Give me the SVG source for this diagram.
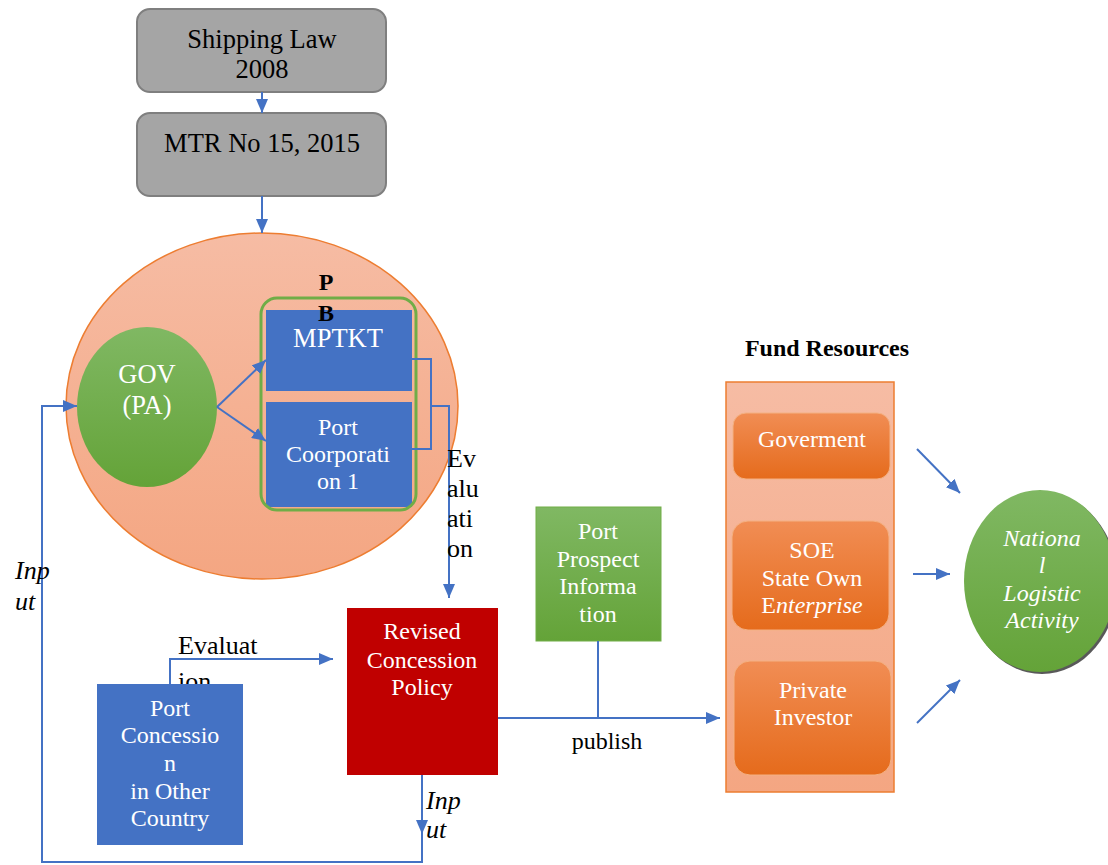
<svg xmlns="http://www.w3.org/2000/svg" width="1108" height="865" viewBox="0 0 1108 865">
<defs>
<linearGradient id="gGreen" x1="0" y1="0" x2="0" y2="1"><stop offset="0" stop-color="#80b863"/><stop offset="1" stop-color="#64a338"/></linearGradient>
<linearGradient id="gOrange" x1="0" y1="0" x2="0" y2="1"><stop offset="0" stop-color="#f18d54"/><stop offset="1" stop-color="#e56b1c"/></linearGradient>
<linearGradient id="gSalmon" x1="0" y1="0" x2="0" y2="1"><stop offset="0" stop-color="#f6bca4"/><stop offset="1" stop-color="#f4a682"/></linearGradient>
<marker id="arr" viewBox="0 0 14 12" refX="14" refY="6" markerWidth="14" markerHeight="12" markerUnits="userSpaceOnUse" orient="auto"><path d="M0 0 L14 6 L0 12 Z" fill="#4472c4"/></marker>
<style>
text{font-family:'Liberation Serif','DejaVu Serif',serif;font-size:24px;text-anchor:middle}
.L{font-size:26.5px}
.M{font-size:26px}
.w{fill:#ffffff}
.k{fill:#000000}
.i{font-style:italic}
.b{font-weight:bold}
.s{text-anchor:start}
.c{fill:none;stroke:#4472c4;stroke-width:2}
.gray{fill:#a5a5a5;stroke:#7f7f7f;stroke-width:2}
.blue{fill:#4472c4}
.ob{fill:url(#gOrange);stroke:#f4b183;stroke-width:1}
</style>
</defs>
<rect width="1108" height="865" fill="#ffffff"/>

<g id="labels-behind">
<text class="k s M" x="178" y="654">Evaluat</text>
<text class="k s M" x="178" y="690">ion</text>
</g>

<g id="shipping-law">
<rect class="gray" x="137" y="9" width="249" height="83" rx="13"/>
<text class="k L" x="262" y="48">Shipping Law</text>
<text class="k L" x="262" y="78">2008</text>
</g>
<g id="mtr">
<rect class="gray" x="137" y="113" width="249" height="83" rx="13"/>
<text class="k L" x="262" y="152">MTR No 15, 2015</text>
</g>

<g id="pa-ellipse">
<ellipse cx="262" cy="406" rx="196" ry="173" fill="url(#gSalmon)" stroke="#ed7d31" stroke-width="1.5"/>
</g>
<g id="gov">
<ellipse cx="147" cy="407" rx="70" ry="80" fill="url(#gGreen)"/>
<text class="w L" x="147" y="383">GOV</text>
<text class="w L" x="147" y="414">(PA)</text>
</g>
<g id="mptkt">
<rect class="blue" x="266" y="310" width="146" height="81"/>
<text class="w L" x="338" y="347">MPTKT</text>
</g>
<g id="port-corp">
<rect class="blue" x="266" y="402" width="146" height="105"/>
<text class="w" x="338" y="435">Port</text>
<text class="w" x="338" y="462">Coorporati</text>
<text class="w" x="338" y="489">on 1</text>
</g>
<g id="pb">
<rect x="261" y="298" width="155" height="212" rx="16" fill="none" stroke="#70ad47" stroke-width="3"/>
<text class="k b" x="326" y="290">P</text>
<text class="k b" x="326" y="321">B</text>
</g>

<g id="revised">
<rect x="347" y="608" width="151" height="167" fill="#c00000"/>
<text class="w" x="422" y="639">Revised</text>
<text class="w" x="422" y="668">Concession</text>
<text class="w" x="422" y="695">Policy</text>
</g>
<g id="port-concession">
<rect class="blue" x="97" y="684" width="146" height="161"/>
<text class="w" x="170" y="716">Port</text>
<text class="w" x="170" y="743">Concessio</text>
<text class="w" x="170" y="771">n</text>
<text class="w" x="170" y="799">in Other</text>
<text class="w" x="170" y="826">Country</text>
</g>
<g id="port-prospect">
<rect x="536" y="507" width="125" height="134" fill="url(#gGreen)" stroke="#70ad47" stroke-width="1"/>
<text class="w" x="598" y="539">Port</text>
<text class="w" x="598" y="567">Prospect</text>
<text class="w" x="598" y="594">Informa</text>
<text class="w" x="598" y="622">tion</text>
</g>

<g id="fund-resources">
<text class="k b" x="827" y="356">Fund Resources</text>
<rect x="726" y="382" width="168" height="410" fill="url(#gSalmon)" stroke="#ed7d31" stroke-width="1.5"/>
</g>
<g id="goverment">
<rect class="ob" x="733" y="413" width="157" height="66" rx="13"/>
<text class="w" x="812" y="447">Goverment</text>
</g>
<g id="soe">
<rect class="ob" x="732" y="521" width="157" height="109" rx="16"/>
<text class="w" x="812" y="558">SOE</text>
<text class="w" x="812" y="586">State Own</text>
<text class="w" x="812" y="613">E<tspan class="i">nterprise</tspan></text>
</g>
<g id="private">
<rect class="ob" x="734" y="661" width="157" height="114" rx="16"/>
<text class="w" x="813" y="698">Private</text>
<text class="w" x="813" y="725">Investor</text>
</g>

<g id="national">
<ellipse cx="1042" cy="583" rx="76" ry="91" fill="#595959"/>
<ellipse cx="1040" cy="581" rx="76" ry="91" fill="url(#gGreen)"/>
<text class="w i" x="1042" y="546">Nationa</text>
<text class="w i" x="1042" y="573">l</text>
<text class="w i" x="1042" y="601">Logistic</text>
<text class="w i" x="1042" y="628">Activity</text>
</g>

<g id="connectors">
<path class="c" d="M262 92 V113" marker-end="url(#arr)"/>
<path class="c" d="M262 196 V233" marker-end="url(#arr)"/>
<path class="c" d="M217 407 L266 360" marker-end="url(#arr)"/>
<path class="c" d="M217 407 L266 441" marker-end="url(#arr)"/>
<path class="c" d="M412 359 H431 V449 H412"/>
<path class="c" d="M431 406 H449 V598" marker-end="url(#arr)"/>
<path class="c" d="M170 684 V659 H333" marker-end="url(#arr)"/>
<path class="c" d="M422 775 V834" marker-end="url(#arr)"/>
<path class="c" d="M422 834 V862 H42 V406 H77" marker-end="url(#arr)"/>
<path class="c" d="M498 718 H720" marker-end="url(#arr)"/>
<path class="c" d="M598 641 V718"/>
<path class="c" d="M917 449 L960 493" marker-end="url(#arr)"/>
<path class="c" d="M913 574 H950" marker-end="url(#arr)"/>
<path class="c" d="M917 723 L960 680" marker-end="url(#arr)"/>
</g>

<g id="connector-labels">
<text class="k s M" x="447" y="467">Ev</text>
<text class="k s M" x="447" y="497">alu</text>
<text class="k s M" x="447" y="527">ati</text>
<text class="k s M" x="447" y="557">on</text>
<text class="k s i M" x="15" y="579">Inp</text>
<text class="k s i M" x="15" y="610">ut</text>
<text class="k s i M" x="426" y="809">Inp</text>
<text class="k s i M" x="426" y="838">ut</text>
<text class="k" x="607" y="749">publish</text>
</g>
</svg>
